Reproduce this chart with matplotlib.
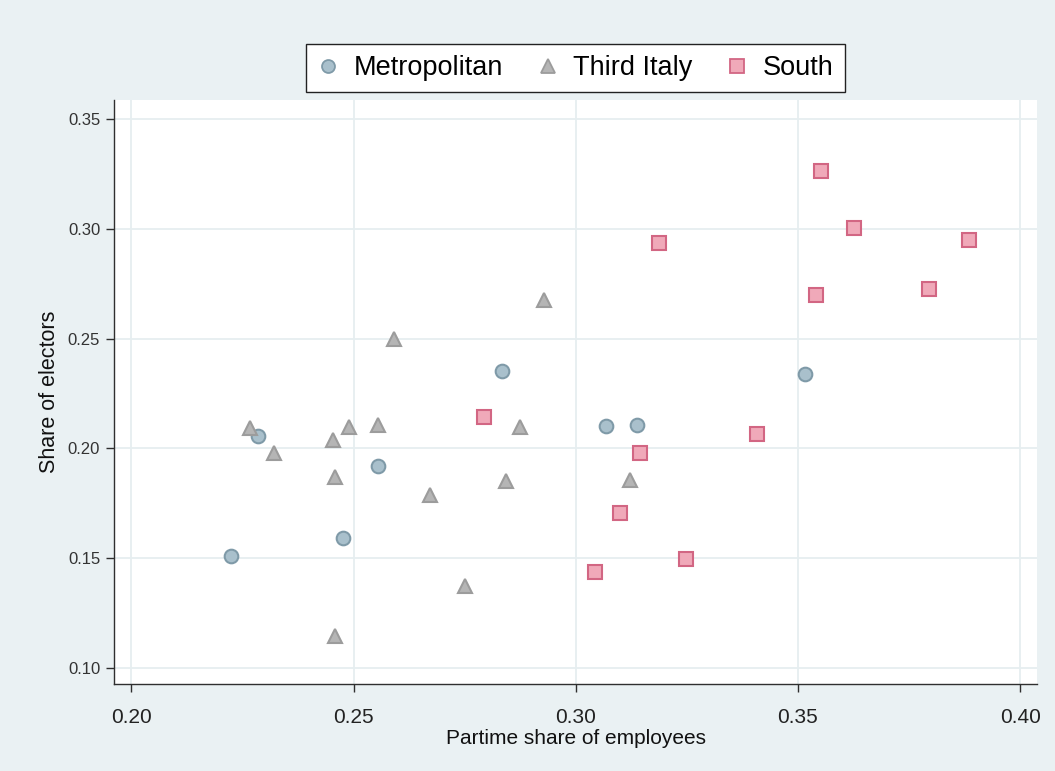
import matplotlib
matplotlib.use("Agg")
import matplotlib.pyplot as plt
from matplotlib.lines import Line2D

plt.rcParams['font.family'] = ['Liberation Sans', 'DejaVu Sans']

metro_x = [0.2225, 0.2285, 0.2476, 0.2556, 0.2833, 0.3068, 0.3137, 0.3516]
metro_y = [0.1510, 0.2055, 0.1594, 0.1918, 0.2354, 0.2101, 0.2109, 0.2337]

third_x = [0.2268, 0.2321, 0.2453, 0.2489, 0.2459, 0.2459, 0.2556, 0.2590,
           0.2673, 0.2750, 0.2844, 0.2874, 0.2928, 0.3122]
third_y = [0.2095, 0.1979, 0.2040, 0.2096, 0.1871, 0.1145, 0.2107, 0.2500,
           0.1789, 0.1373, 0.1853, 0.2096, 0.2675, 0.1858]

south_x = [0.2793, 0.3145, 0.3099, 0.3248, 0.3043, 0.3407, 0.3552, 0.3626,
           0.3187, 0.3885, 0.3541, 0.3795]
south_y = [0.2142, 0.1978, 0.1704, 0.1498, 0.1437, 0.2066, 0.3263, 0.3004,
           0.2935, 0.2949, 0.2697, 0.2725]

x_ticks = [0.20, 0.25, 0.30, 0.35, 0.40]
y_ticks = [0.10, 0.15, 0.20, 0.25, 0.30, 0.35]
x_tick_labels = ["0.20", "0.25", "0.30", "0.35", "0.40"]
y_tick_labels = ["0.10", "0.15", "0.20", "0.25", "0.30", "0.35"]
series_names = ["Metropolitan", "Third Italy", "South"]

BG = "#eaf1f3"
fig = plt.figure(figsize=(10.55, 7.71), dpi=100, facecolor=BG)
ax = fig.add_axes([0.1081, 0.1128, 0.9829 - 0.1081, 0.8703 - 0.1128])
ax.set_facecolor("white")

styles = [
    dict(marker='o', ms=9.8, mfc="#a9c0cc", mec="#7f9aa8"),
    dict(marker='^', ms=10.0, mfc="#b5b5b5", mec="#9c9c9c"),
    dict(marker='s', ms=10.2, mfc="#f0a9b9", mec="#d26683"),
]
data = [(metro_x, metro_y), (third_x, third_y), (south_x, south_y)]
for (xs, ys), st in zip(data, styles):
    ax.plot(xs, ys, linestyle='none', mew=1.5, zorder=3, **st)

ax.set_xlim(0.1961, 0.4038)
ax.set_ylim(0.0927, 0.3587)
ax.set_xticks(x_ticks)
ax.set_xticklabels(x_tick_labels)
ax.set_yticks(y_ticks)
ax.set_yticklabels(y_tick_labels)
ax.grid(True, color="#e6eef0", linewidth=1.3, zorder=0)
ax.set_axisbelow(True)

for s in ['top', 'right']:
    ax.spines[s].set_visible(False)
for s in ['left', 'bottom']:
    ax.spines[s].set_color("#2f2f2f")
    ax.spines[s].set_linewidth(1.0)

ax.tick_params(axis='x', direction='out', length=6, width=1, color="#2f2f2f",
               labelsize=15, pad=11, labelcolor="#222222")
ax.tick_params(axis='y', direction='out', length=6, width=1, color="#2f2f2f",
               labelsize=12, pad=4, labelcolor="#333333")

ax.set_xlabel("Partime share of employees", fontsize=15, color="#111111", labelpad=2)
ax.set_ylabel("Share of electors", fontsize=15.5, color="#111111", labelpad=5.5)

handles = [Line2D([], [], linestyle='none', marker=st['marker'], ms=st['ms'] * 0.95,
                  mfc=st['mfc'], mec=st['mec'], mew=1.3) for st in styles]
leg = fig.legend(handles, series_names, loc='center',
                 bbox_to_anchor=(575.5 / 1055, 1 - 68 / 771), ncol=3,
                 fontsize=19.5, frameon=True, fancybox=False, edgecolor="#222222",
                 facecolor="white", framealpha=1, handletextpad=0.55,
                 columnspacing=1.25, borderpad=0.4, handlelength=0.8,
                 borderaxespad=0)
leg.get_frame().set_linewidth(1.0)

fig.savefig("out.png", dpi=100, facecolor=BG)
